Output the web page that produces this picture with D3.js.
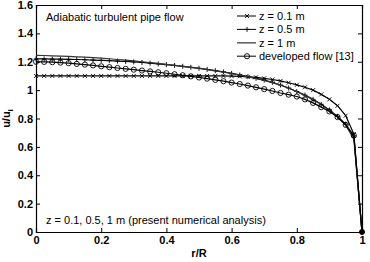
<!DOCTYPE html>
<html>
<head>
<meta charset="utf-8">
<script src="https://cdn.jsdelivr.net/npm/d3@7"></script>
<style>
  body { margin: 0; background: #fff; }
  svg { display: block; font-family: "Liberation Sans", Arial, sans-serif; }
</style>
</head>
<body>
<svg width="370" height="262"></svg>
<script>
// radial positions r/R shared by all series
var rr = [0, 0.025, 0.05, 0.075, 0.1, 0.125, 0.15, 0.175, 0.2, 0.225, 0.25, 0.275, 0.3, 0.325, 0.35, 0.375,
          0.4, 0.425, 0.45, 0.475, 0.5, 0.525, 0.55, 0.575, 0.6, 0.625, 0.65, 0.675, 0.7, 0.725, 0.75, 0.775,
          0.8, 0.825, 0.85, 0.875, 0.9, 0.925, 0.95, 0.975, 1];

var z01 = [1.1, 1.1, 1.1, 1.1, 1.1, 1.1, 1.1, 1.1, 1.1, 1.1, 1.1, 1.1, 1.1, 1.1, 1.1, 1.1,
           1.1, 1.1, 1.1, 1.1, 1.1, 1.1, 1.1, 1.1, 1.099, 1.097, 1.094, 1.09, 1.083, 1.075, 1.065, 1.052,
           1.037, 1.02, 1.0, 0.97, 0.935, 0.89, 0.82, 0.69, 0];

var z05 = [1.22, 1.22, 1.219, 1.218, 1.217, 1.216, 1.214, 1.212, 1.21, 1.208, 1.205, 1.202, 1.199, 1.195, 1.19, 1.185,
           1.18, 1.174, 1.168, 1.161, 1.154, 1.146, 1.137, 1.128, 1.118, 1.107, 1.095, 1.083, 1.07, 1.055, 1.036, 1.015,
           0.99, 0.965, 0.935, 0.9, 0.86, 0.815, 0.76, 0.67, 0];

var z1 = [1.245, 1.244, 1.242, 1.24, 1.238, 1.235, 1.232, 1.229, 1.225, 1.221, 1.216, 1.211, 1.206, 1.2, 1.194, 1.188,
          1.182, 1.175, 1.168, 1.161, 1.153, 1.145, 1.136, 1.127, 1.117, 1.106, 1.094, 1.082, 1.068, 1.053, 1.035, 1.014,
          0.989, 0.963, 0.933, 0.898, 0.857, 0.81, 0.752, 0.655, 0];

var dev = [1.2, 1.199, 1.197, 1.194, 1.19, 1.185, 1.18, 1.174, 1.168, 1.162, 1.156, 1.15, 1.144, 1.138, 1.132, 1.126,
           1.119, 1.112, 1.105, 1.097, 1.089, 1.081, 1.072, 1.063, 1.053, 1.043, 1.032, 1.02, 1.007, 0.994, 0.98, 0.968,
           0.955, 0.935, 0.91, 0.88, 0.85, 0.81, 0.755, 0.68, 0];

var xTicks = [0, 0.2, 0.4, 0.6, 0.8, 1];
var yTicks = [0, 0.2, 0.4, 0.6, 0.8, 1, 1.2, 1.4, 1.6];

var series = [
  { name: "z = 0.1 m", values: z01, marker: "x", color: "#000" },
  { name: "z = 0.5 m", values: z05, marker: "+", color: "#000" },
  { name: "z = 1 m", values: z1, marker: null, color: "#333" },
  { name: "developed flow [13]", values: dev, marker: "o", color: "#000" }
];

var svg = d3.select("svg"),
    margin = { top: 5, right: 8, bottom: 30, left: 36 },
    width = 370 - margin.left - margin.right,
    height = 262 - margin.top - margin.bottom,
    g = svg.append("g").attr("transform", "translate(" + margin.left + "," + margin.top + ")");

var x = d3.scaleLinear().domain([0, 1]).range([0, width]),
    y = d3.scaleLinear().domain([0, 1.6]).range([height, 0]);

var fmt = function (d) { return d === 0 || d === 1 ? d3.format("d")(d) : d3.format(".1f")(d); };

// axes, MATLAB style: ticks inside on all four sides
g.append("g").attr("transform", "translate(0," + height + ")")
  .call(d3.axisBottom(x).tickValues(xTicks).tickSize(-4).tickPadding(4).tickFormat(fmt));
g.append("g")
  .call(d3.axisLeft(y).tickValues(yTicks).tickSize(-4).tickPadding(3).tickFormat(fmt));
g.append("g")
  .call(d3.axisTop(x).tickValues(xTicks).tickSize(-4).tickFormat(""));
g.append("g").attr("transform", "translate(" + width + ",0)")
  .call(d3.axisRight(y).tickValues(yTicks).tickSize(-4).tickFormat(""));

g.selectAll(".domain").attr("stroke", "#000").attr("stroke-width", 1.2);
g.selectAll(".tick line").attr("stroke", "#000");
g.selectAll(".tick text").attr("fill", "#000")
  .style("font-size", "11px").style("font-weight", "bold");

var line = d3.line()
  .x(function (d) { return x(d[0]); })
  .y(function (d) { return y(d[1]); });

function drawMarker(sel, type, cx, cy) {
  if (type === "x") {
    sel.append("path")
      .attr("d", "M" + (cx - 2) + "," + (cy - 2) + "L" + (cx + 2) + "," + (cy + 2) +
                 "M" + (cx - 2) + "," + (cy + 2) + "L" + (cx + 2) + "," + (cy - 2))
      .attr("stroke", "#000").attr("stroke-width", 0.9);
  } else if (type === "+") {
    sel.append("path")
      .attr("d", "M" + (cx - 2.5) + "," + cy + "L" + (cx + 2.5) + "," + cy +
                 "M" + cx + "," + (cy - 2.5) + "L" + cx + "," + (cy + 2.5))
      .attr("stroke", "#000").attr("stroke-width", 0.9);
  } else if (type === "o") {
    sel.append("circle").attr("cx", cx).attr("cy", cy).attr("r", 2.6)
      .attr("fill", "none").attr("stroke", "#000").attr("stroke-width", 0.9);
  }
}

series.forEach(function (s) {
  var pts = rr.map(function (r, i) { return [r, s.values[i]]; });
  g.append("path")
    .datum(pts)
    .attr("fill", "none")
    .attr("stroke", s.color)
    .attr("stroke-width", 1.2)
    .attr("d", line);
  if (s.marker) {
    var mg = g.append("g");
    pts.forEach(function (p) { drawMarker(mg, s.marker, x(p[0]), y(p[1])); });
  }
});

// end point at the wall
g.append("circle").attr("cx", x(1)).attr("cy", y(0)).attr("r", 2.2).attr("fill", "#000");

// legend
var legend = g.append("g").attr("transform", "translate(201,11)");
series.forEach(function (s, i) {
  var row = legend.append("g").attr("transform", "translate(0," + (i * 13.4) + ")");
  row.append("line").attr("x1", 0).attr("x2", 19).attr("y1", 0).attr("y2", 0)
    .attr("stroke", s.marker ? "#000" : "#666").attr("stroke-width", s.marker ? 1 : 1.6);
  if (s.marker) drawMarker(row, s.marker, 10, 0);
  row.append("text").attr("x", 22).attr("y", 0).attr("dy", "0.35em")
    .style("font-size", "11px").text(s.name);
});

// annotations
g.append("text").attr("x", 10).attr("y", 16).style("font-size", "11px")
  .text("Adiabatic turbulent pipe flow");
g.append("text").attr("x", 10).attr("y", 219).style("font-size", "11px")
  .text("z = 0.1, 0.5, 1 m (present numerical analysis)");

// axis titles
svg.append("text")
  .attr("x", margin.left + width / 2).attr("y", 257)
  .attr("text-anchor", "middle")
  .style("font-size", "11px").style("font-weight", "bold")
  .text("r/R");

var yl = svg.append("text")
  .attr("transform", "translate(10," + (margin.top + height / 2) + ")rotate(-90)")
  .attr("text-anchor", "middle")
  .style("font-size", "11px").style("font-weight", "bold");
yl.append("tspan").text("u/u");
yl.append("tspan").attr("dy", 3).style("font-size", "8px").text("i");
</script>
</body>
</html>
